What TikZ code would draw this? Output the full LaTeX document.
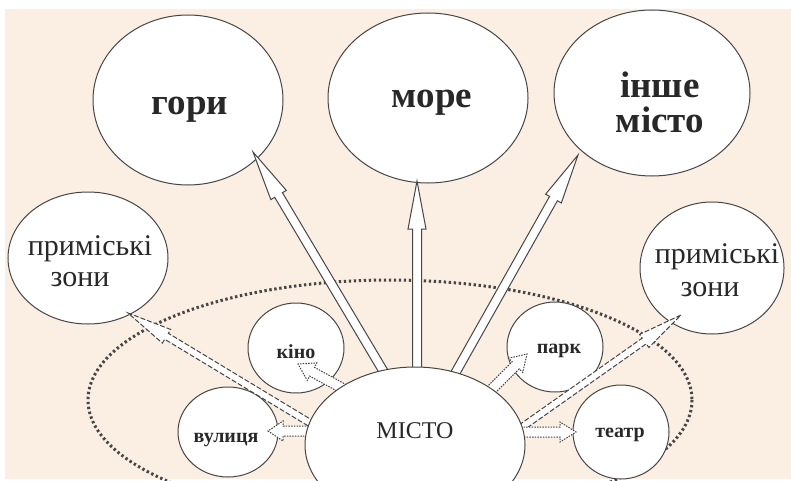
\documentclass[tikz,border=0pt]{standalone}
\usepackage{fontspec}
\setmainfont{Liberation Serif}
\usetikzlibrary{shapes.geometric,calc}
\definecolor{peach}{RGB}{251,238,226}
\definecolor{ink}{RGB}{70,70,70}
\definecolor{txt}{RGB}{40,40,40}

% #1 style, #2 from, #3 to, #4 shaft half width, #5 head half width, #6 head length
\newcommand\hollowarrow[6]{%
  \path (#2); \pgfgetlastxy{\hax}{\hay}%
  \path (#3); \pgfgetlastxy{\hbx}{\hby}%
  \pgfmathsetmacro\hlen{veclen(\hbx-\hax,\hby-\hay)}%
  \pgfmathsetmacro\hang{atan2(\hby-\hay,\hbx-\hax)}%
  \pgfmathsetmacro\hbase{\hlen-#6}%
  \edef\hlenpt{\hlen pt}\edef\hbasept{\hbase pt}%
  \draw[#1, shift={(\hax,\hay)}, rotate=\hang]
    (0pt,-#4pt) -- (\hbasept,-#4pt) -- (\hbasept,-#5pt) -- (\hlenpt,0pt)
    -- (\hbasept,#5pt) -- (\hbasept,#4pt) -- (0pt,#4pt) -- cycle;%
}

\begin{document}
\begin{tikzpicture}[x=1pt,y=-1pt,
  bubble/.style={ellipse, draw=ink, line width=1pt, fill=white, inner sep=0pt},
  bigarrow/.style={draw=ink, line width=1pt, fill=white, line join=miter},
  dasharrow/.style={draw=ink, line width=1pt, fill=white, dash pattern=on 5pt off 2pt},
  dotarrow/.style={draw=ink, line width=1pt, fill=white, dash pattern=on 1.5pt off 1.2pt},
  bigtxt/.style={font=\fontsize{37}{40}\selectfont\bfseries, text=txt, anchor=base, inner sep=0pt},
  midtxt/.style={font=\fontsize{30}{32}\selectfont, text=txt, anchor=base, inner sep=0pt},
  smalltxt/.style={font=\fontsize{20}{22}\selectfont\bfseries, text=txt, anchor=base, inner sep=0pt},
  citytxt/.style={font=\fontsize{24}{26}\selectfont, text=txt, anchor=base, inner sep=0pt},
  zone/.style={draw=ink, line width=3pt, dash pattern=on 2.4pt off 2.6pt}
]
\useasboundingbox (0,0) rectangle (791,481);
\clip (0,0) rectangle (791,481);
\fill[white] (0,0) rectangle (791,481);
\fill[peach] (5,9) rectangle (791,479);

% dotted zone
\draw[zone] (390,400) ellipse [x radius=302, y radius=120];

% outer bubbles
\node[bubble, minimum width=190pt, minimum height=170pt] (gory) at (188,100) {};
\node[bubble, minimum width=200pt, minimum height=170pt] (more) at (428,98) {};
\node[bubble, minimum width=196pt, minimum height=166pt] (inshe) at (652,93) {};
\node[bubble, minimum width=160pt, minimum height=132pt] (lzone) at (88,258) {};
\node[bubble, minimum width=144pt, minimum height=132pt] (rzone) at (712,268) {};
\node[bubble, minimum width=96pt, minimum height=90pt] (kino) at (296,348) {};
\node[bubble, minimum width=100pt, minimum height=90pt] (vul) at (228,432) {};
\node[bubble, minimum width=96pt, minimum height=90pt] (park) at (555,347) {};
\node[bubble, minimum width=96pt, minimum height=94pt] (teatr) at (621,432) {};

% arrow end points
\coordinate (a-gory-s) at (391,384);  \coordinate (a-gory-t) at (253,152);
\coordinate (a-more-s) at (417,392);  \coordinate (a-more-t) at (417,181);
\coordinate (a-inshe-s) at (448,386); \coordinate (a-inshe-t) at (578,155);
\coordinate (a-lz-s) at (325,432);    \coordinate (a-lz-t) at (128,313);
\coordinate (a-rz-s) at (508,437);    \coordinate (a-rz-t) at (681,315);
\coordinate (a-kino-s) at (351,393);  \coordinate (a-kino-t) at (298,364);
\coordinate (a-vul-s) at (325,431);   \coordinate (a-vul-t) at (268,431);
\coordinate (a-park-s) at (486,395);  \coordinate (a-park-t) at (527,354);
\coordinate (a-teatr-s) at (505,432); \coordinate (a-teatr-t) at (576,432);

\hollowarrow{bigarrow}{a-gory-s}{a-gory-t}{4.5}{9}{50}
\hollowarrow{bigarrow}{a-more-s}{a-more-t}{4.5}{9}{48}
\hollowarrow{bigarrow}{a-inshe-s}{a-inshe-t}{4.5}{9}{50}
\hollowarrow{dasharrow}{a-lz-s}{a-lz-t}{3.5}{8}{45}
\hollowarrow{dasharrow}{a-rz-s}{a-rz-t}{3.5}{8}{45}
\hollowarrow{dotarrow}{a-kino-s}{a-kino-t}{5}{10}{16}
\hollowarrow{dotarrow}{a-vul-s}{a-vul-t}{5}{10}{15}
\hollowarrow{dotarrow}{a-park-s}{a-park-t}{5}{10}{16}
\hollowarrow{dotarrow}{a-teatr-s}{a-teatr-t}{5}{10}{16}

% city
\node[bubble, minimum width=220pt, minimum height=156pt] (misto) at (415,445) {};

% labels
\node[bigtxt] (gory-t) at (190,115) {гори};
\node[bigtxt] (more-t) at (432,108) {море};
\node[bigtxt] (inshe-t1) at (660,98) {інше};
\node[bigtxt] (inshe-t2) at (660,133) {місто};
\node[midtxt] (lzone-t1) at (90,255) {приміські};
\node[midtxt] (lzone-t2) at (80,286) {зони};
\node[midtxt] (rzone-t1) at (717,263) {приміські};
\node[midtxt] (rzone-t2) at (710,296) {зони};
\node[smalltxt] (kino-t) at (296,358) {кіно};
\node[smalltxt] (vul-t) at (226,442) {вулиця};
\node[smalltxt] (park-t) at (559,353) {парк};
\node[smalltxt] (teatr-t) at (620,437) {театр};
\node[citytxt] (misto-t) at (415,438) {МІСТО};
\end{tikzpicture}
\end{document}
